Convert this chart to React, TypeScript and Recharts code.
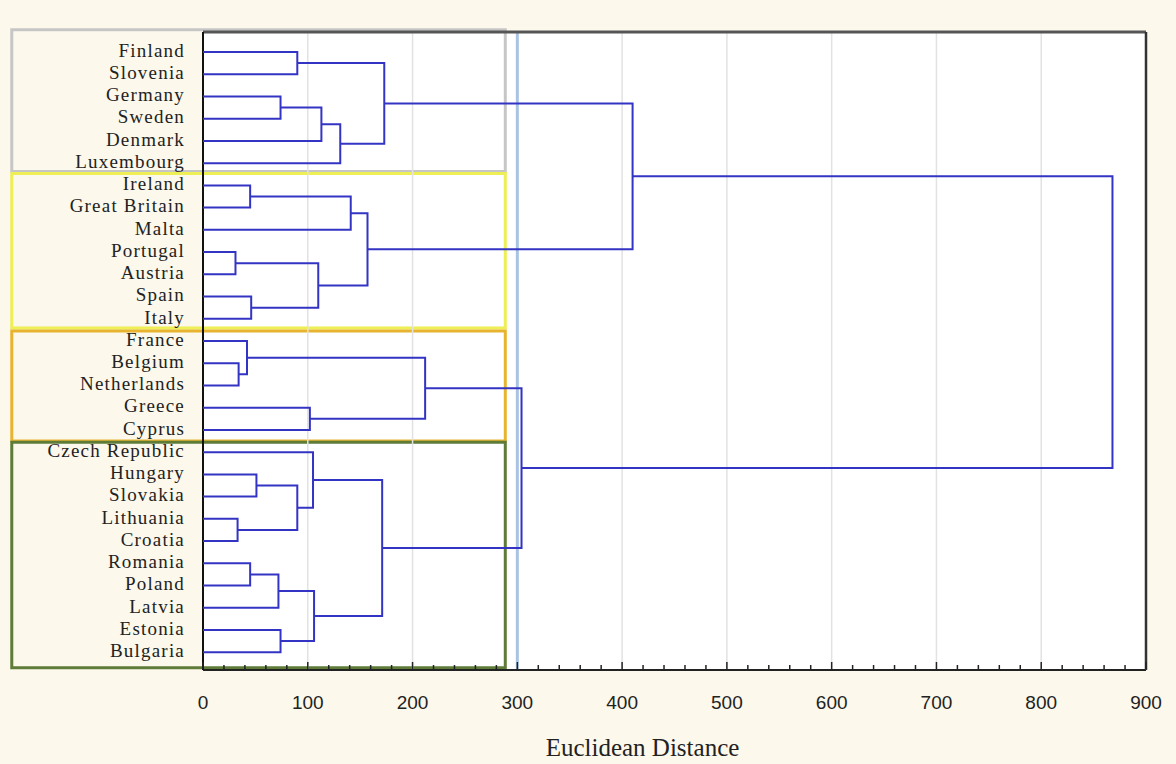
import {
  ComposedChart,
  Scatter,
  XAxis,
  YAxis,
  CartesianGrid,
  ReferenceLine,
  ReferenceArea,
} from "recharts";

const countries = [
  "Finland", "Slovenia", "Germany", "Sweden", "Denmark", "Luxembourg",
  "Ireland", "Great Britain", "Malta", "Portugal", "Austria", "Spain", "Italy",
  "France", "Belgium", "Netherlands", "Greece", "Cyprus",
  "Czech Republic", "Hungary", "Slovakia", "Lithuania", "Croatia",
  "Romania", "Poland", "Latvia", "Estonia", "Bulgaria",
];

// [left node, right node, distance]; leaves are 0..27, merge i creates node 28 + i
const merges: [number, number, number][] = [
  [14, 15, 34],
  [13, 28, 42],
  [9, 10, 31],
  [21, 22, 33],
  [6, 7, 45],
  [11, 12, 46],
  [23, 24, 45],
  [19, 20, 51],
  [2, 3, 74],
  [34, 25, 72],
  [26, 27, 74],
  [0, 1, 90],
  [35, 31, 90],
  [16, 17, 102],
  [18, 40, 105],
  [37, 38, 106],
  [30, 33, 110],
  [36, 4, 113],
  [45, 5, 131],
  [32, 8, 141],
  [47, 44, 157],
  [42, 43, 171],
  [39, 46, 173],
  [29, 41, 212],
  [51, 49, 304],
  [50, 48, 410],
  [53, 52, 868],
];

const majorTicks = [0, 100, 200, 300, 400, 500, 600, 700, 800, 900];
const minorTicks = majorTicks.flatMap((t, i) =>
  i < majorTicks.length - 1 ? [t, t + 20, t + 40, t + 60, t + 80] : [t]
);

const cutDistance = 300;

// cluster frames: [top, bottom] in leaf units, colour
const clusterBoxes: { y1: number; y2: number; color: string }[] = [
  { y1: -1.0, y2: 5.38, color: "#c6c6c6" },
  { y1: 5.47, y2: 12.42, color: "#eeee55" },
  { y1: 12.55, y2: 17.5, color: "#e8b430" },
  { y1: 17.56, y2: 27.7, color: "#5e7b38" },
];

const nodeY: number[] = countries.map((_, i) => i);
const nodeH: number[] = countries.map(() => 0);
merges.forEach(([a, b, d]) => {
  nodeY.push((nodeY[a] + nodeY[b]) / 2);
  nodeH.push(d);
});

const links = merges.map(([a, b, d]) => [
  { x: nodeH[a], y: nodeY[a] },
  { x: d, y: nodeY[a] },
  { x: d, y: nodeY[b] },
  { x: nodeH[b], y: nodeY[b] },
]);

const leafTicks = countries.map((_, i) => i);

const BottomTick = (props: any) => {
  const { x, y, payload } = props;
  const major = payload.value % 100 === 0;
  return (
    <g>
      <line x1={x} x2={x} y1={y - 1} y2={y - (major ? 8 : 5)} stroke="#222" strokeWidth={1.5} />
      {major && (
        <text
          x={x}
          y={y + 39}
          textAnchor="middle"
          fontFamily="Liberation Sans, Arial, sans-serif"
          fontSize={19}
          fill="#222"
        >
          {payload.value}
        </text>
      )}
    </g>
  );
};

const App = () => {
  return (
    <div
      style={{
        position: "absolute",
        left: 0,
        top: 0,
        width: 1176,
        height: 764,
        background: "#fcf8ec",
      }}
    >
      <ComposedChart
        width={1176}
        height={764}
        margin={{ top: 32, right: 30, bottom: 4, left: 13 }}
      >
        <CartesianGrid horizontal={false} vertical={false} fill="#ffffff" />
        <XAxis
          type="number"
          dataKey="x"
          domain={[0, 900]}
          ticks={minorTicks}
          interval={0}
          tick={<BottomTick />}
          tickLine={false}
          tickSize={0}
          tickMargin={0}
          height={90}
          axisLine={{ stroke: "#222", strokeWidth: 2 }}
          label={{
            value: "Euclidean Distance",
            position: "insideBottom",
            offset: 4,
            dx: -32,
            fontFamily: "Liberation Serif, Times New Roman, serif",
            fontSize: 25,
            fill: "#222",
          }}
        />
        <XAxis
          xAxisId="t"
          orientation="top"
          type="number"
          domain={[0, 900]}
          ticks={minorTicks}
          interval={0}
          mirror
          height={1}
          tickSize={4}
          tickFormatter={() => ""}
          tickLine={{ stroke: "#333", strokeWidth: 1.5 }}
          axisLine={{ stroke: "#555", strokeWidth: 3 }}
        />
        <YAxis
          type="number"
          dataKey="y"
          domain={[-0.9, 27.8]}
          reversed
          ticks={leafTicks}
          interval={0}
          width={190}
          tickSize={0}
          tickMargin={18}
          tickLine={false}
          tickFormatter={(i: number) => countries[i] ?? ""}
          tick={{
            fontFamily: "Liberation Serif, Times New Roman, serif",
            fontSize: 19,
            letterSpacing: 1.2,
            fill: "#222",
            dy: -2,
          }}
          axisLine={{ stroke: "#111", strokeWidth: 2 }}
        />
        <YAxis
          yAxisId="r"
          orientation="right"
          type="number"
          domain={[-0.9, 27.8]}
          reversed
          ticks={leafTicks}
          interval={0}
          mirror
          width={1}
          tickSize={5}
          tickFormatter={() => ""}
          tickLine={{ stroke: "#333", strokeWidth: 1.5 }}
          axisLine={{ stroke: "#333", strokeWidth: 2.5 }}
        />
        {majorTicks.slice(1, -1).map((t) => (
          <ReferenceLine key={`g-${t}`} x={t} stroke="#e2e2e2" strokeWidth={1.5} />
        ))}
        {clusterBoxes.map((b, i) => (
          <ReferenceArea
            key={`box-${i}`}
            x1={-182.5}
            x2={288.5}
            y1={b.y1}
            y2={b.y2}
            ifOverflow="visible"
            fill="none"
            fillOpacity={0}
            stroke={b.color}
            strokeWidth={3}
          />
        ))}
        <ReferenceLine x={cutDistance} stroke="#a9c3e3" strokeWidth={3} />
        {links.map((pts, i) => (
          <Scatter
            key={`link-${i}`}
            data={pts}
            line={{ stroke: "#3434c4", strokeWidth: 2 }}
            shape={() => <g />}
            isAnimationActive={false}
          />
        ))}
      </ComposedChart>
    </div>
  );
};

export default App;
